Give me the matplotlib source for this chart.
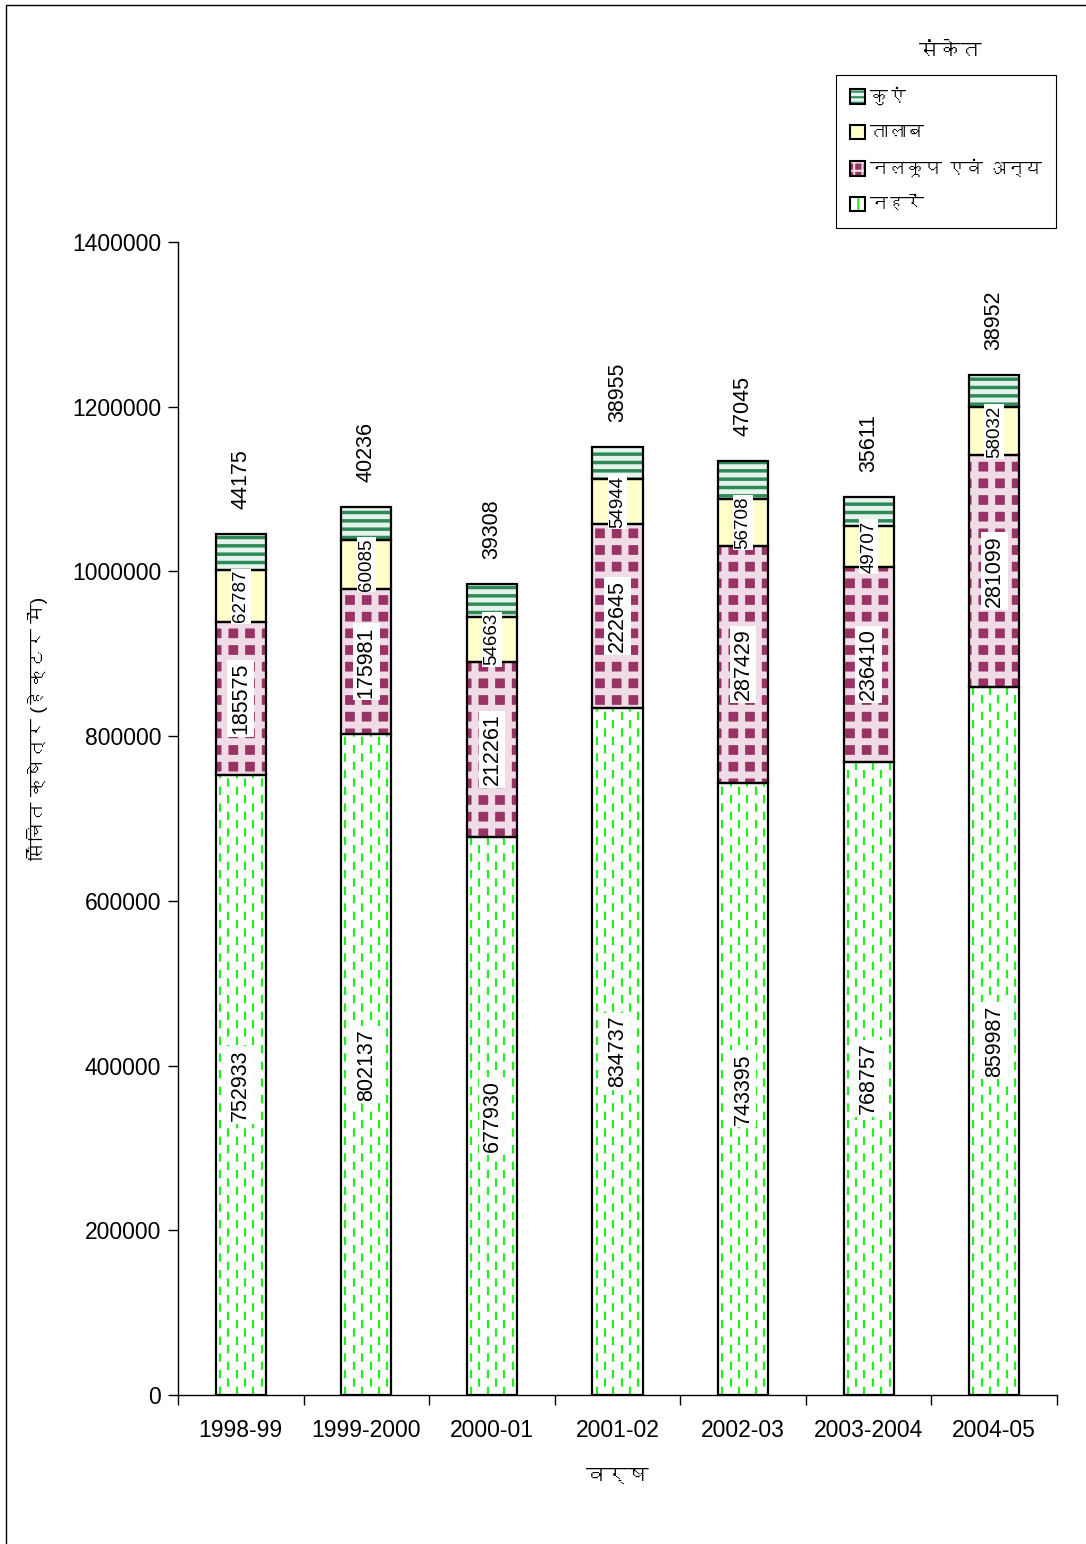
import matplotlib
matplotlib.use("Agg")
import matplotlib.pyplot as plt
import matplotlib.font_manager as fm
from matplotlib.patches import Patch, Rectangle
from matplotlib.collections import LineCollection

# ---------------- data ----------------
years = ["1998-99", "1999-2000", "2000-01", "2001-02", "2002-03", "2003-2004", "2004-05"]
canals = [752933, 802137, 677930, 834737, 743395, 768757, 859987]      # नहरें
tubewells = [185575, 175981, 212261, 222645, 287429, 236410, 281099]   # नलकूप एवं अन्य
ponds = [62787, 60085, 54663, 54944, 56708, 49707, 58032]              # तालाब
wells = [44175, 40236, 39308, 38955, 47045, 35611, 38952]              # कुएं
series_names = ["नहरें", "नलकूप एवं अन्य", "तालाब", "कुएं"]
y_ticks = [0, 200000, 400000, 600000, 800000, 1000000, 1200000, 1400000]

# ---------------- fonts ----------------
deva = None
try:
    from fontTools.ttLib import TTFont
    seen = set()
    for f in fm.fontManager.ttflist:
        if f.name in seen:
            continue
        seen.add(f.name)
        try:
            tt = TTFont(f.fname, fontNumber=0, lazy=True)
            cmap = tt.getBestCmap()
            if cmap and 0x0915 in cmap and 0x093F in cmap:
                deva = f.name
                break
        except Exception:
            pass
except Exception:
    pass
families = ["Liberation Sans"] + ([deva] if deva else []) + ["DejaVu Sans"]
plt.rcParams["font.family"] = families
plt.rcParams["lines.scale_dashes"] = False

W, H = 1086, 1544
fig = plt.figure(figsize=(W / 100, H / 100), dpi=100)
ax = fig.add_axes([178 / W, 1 - 1395 / H, (1057 - 178) / W, (1395 - 242) / H])

x = list(range(len(years)))
bw = 0.40

# styles
c_canal = "#22EE22"
c_tube = "#993366"
c_tube_lines = "#F0DCE6"
c_pond = "#FFFFCC"
c_well = "#2E8B57"
well_bg = "#E6F2EC"

bottom1 = canals
bottom2 = [a + b for a, b in zip(canals, tubewells)]
bottom3 = [a + b for a, b in zip(bottom2, ponds)]
tops = [a + b for a, b in zip(bottom3, wells)]

# canals: white with dashed green verticals
canal_bars = ax.bar(x, canals, bw, color="white", edgecolor="none", zorder=2)
for p in canal_bars:
    x0, w = p.get_x(), p.get_width()
    segs_a, segs_b = [], []
    for k in range(6):
        xx = x0 + (k + 0.5) * w / 6
        (segs_a if k % 2 == 0 else segs_b).append([(xx, 0), (xx, p.get_height())])
    for segs, off in ((segs_a, 0), (segs_b, 6)):
        lc = LineCollection(segs, colors=c_canal, linewidths=1.6,
                            linestyles=[(off, (6, 6))], zorder=2.5)
        ax.add_collection(lc)
        lc.set_clip_path(p)

# tubewells: maroon squares on light background
plt.rcParams["hatch.linewidth"] = 5.0
tube_bars = ax.bar(x, tubewells, bw, bottom=bottom1, color=c_tube,
                   edgecolor=c_tube_lines, hatch="+", linewidth=0, zorder=2)
# ponds
pond_bars = ax.bar(x, ponds, bw, bottom=bottom2, color=c_pond, edgecolor="none", zorder=2)
# wells: green horizontal stripes
plt.rcParams["hatch.linewidth"] = 2.5
well_bars = ax.bar(x, wells, bw, bottom=bottom3, color=well_bg,
                   edgecolor=c_well, hatch="--", linewidth=0, zorder=2)

# outlines
for vals, bots in ((canals, None), (tubewells, bottom1), (ponds, bottom2), (wells, bottom3)):
    ax.bar(x, vals, bw, bottom=bots, fill=False, edgecolor="black", linewidth=1.6, zorder=3)

# value labels
box = dict(facecolor="white", edgecolor="none", pad=2)
for i in x:
    ax.text(i, canals[i] / 2, str(canals[i]), rotation=90, ha="center", va="center",
            fontsize=15.5, bbox=box, zorder=4)
    ax.text(i, bottom1[i] + tubewells[i] / 2, str(tubewells[i]), rotation=90, ha="center",
            va="center", fontsize=15.5, bbox=box, zorder=4)
    ax.text(i, bottom2[i] + ponds[i] / 2, str(ponds[i]), rotation=90, ha="center",
            va="center", fontsize=13.5, bbox=dict(facecolor="white", edgecolor="none", pad=1),
            zorder=4)
    ax.annotate(str(wells[i]), (i, tops[i]), xytext=(0, 18), textcoords="offset points",
                rotation=90, ha="center", va="bottom", fontsize=15.5, zorder=4)

# axes
ax.set_xlim(-0.5, len(years) - 0.5)
ax.set_ylim(0, 1400000)
ax.set_yticks(y_ticks)
ax.set_yticklabels([str(v) for v in y_ticks], fontsize=16.5)
ax.set_xticks(x)
ax.set_xticklabels(years, fontsize=16.5)
ax.tick_params(axis="x", length=0, pad=17)
ax.set_xticks([i - 0.5 for i in range(len(years) + 1)], minor=True)
ax.tick_params(axis="x", which="minor", length=7, width=1, direction="out")
ax.tick_params(axis="y", length=7, width=1, direction="out", pad=5)
for s in ("top", "right"):
    ax.spines[s].set_visible(False)
for s in ("left", "bottom"):
    ax.spines[s].set_linewidth(1)

ax.set_ylabel("सिंचित क्षेत्र (हेक्टर में)", fontsize=14)
ax.yaxis.set_label_coords(-0.148, 0.578)
fig.text(617 / W, 1 - 1476 / H, "वर्ष", ha="center", va="center", fontsize=15)

# legend
def pair(fc, ec, hatch, hlw):
    plt.rcParams["hatch.linewidth"] = hlw
    a = Patch(facecolor=fc, edgecolor=ec, hatch=hatch, linewidth=0)
    b = Patch(facecolor="none", edgecolor="black", linewidth=1.5)
    return (a, b)

handles = [pair(well_bg, c_well, "---", 1.5),
           pair(c_pond, "none", None, 1),
           pair(c_tube, c_tube_lines, "++", 2.5),
           pair("white", c_canal, "|", 1.5)]
labels = ["कुएं", "तालाब", "नलकूप एवं अन्य", "नहरें"]
leg = fig.legend(handles, labels, loc="upper left", bbox_to_anchor=(836 / W, 1 - 75 / H),
                 frameon=True, fancybox=False, edgecolor="black", framealpha=1,
                 fontsize=13, handlelength=0.85, handleheight=0.85, handletextpad=0.3,
                 labelspacing=1.0, borderpad=0.75, borderaxespad=0)
leg.get_frame().set_linewidth(0.8)
fig.text(950 / W, 1 - 51 / H, "संकेत", ha="center", va="center", fontsize=15)

# outer border
fig.patches.append(Rectangle((5.5 / W, -0.01), 1.05, 1 - 4.5 / H + 0.01,
                             transform=fig.transFigure, fill=False,
                             edgecolor="black", linewidth=1))

fig.savefig("out.png", dpi=100)
